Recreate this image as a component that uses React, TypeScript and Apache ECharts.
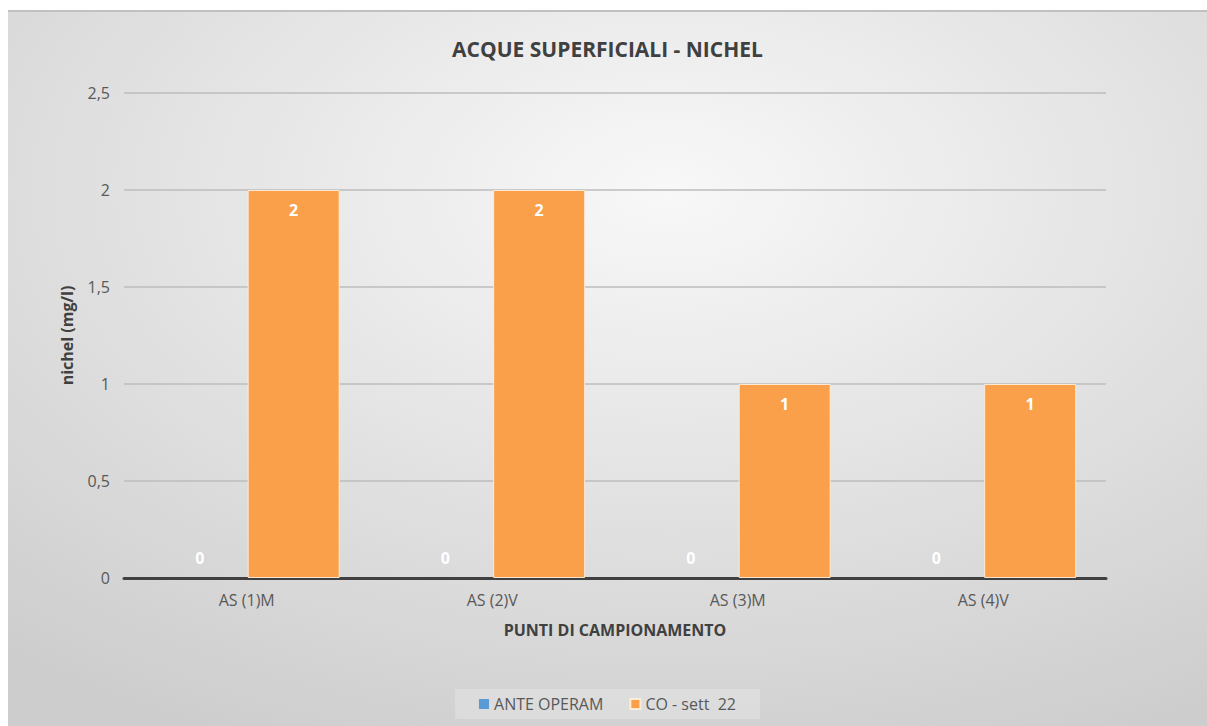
import React, { useEffect, useRef } from "react";
import * as echarts from "echarts";

const categories = ["AS (1)M", "AS (2)V", "AS (3)M", "AS (4)V"];
const anteOperam = [0, 0, 0, 0];
const coSett22 = [2, 2, 1, 1];
const seriesNames = ["ANTE OPERAM", "CO - sett  22"];
const titleText = "ACQUE SUPERFICIALI - NICHEL";
const yAxisName = "nichel (mg/l)";
const xAxisName = "PUNTI DI CAMPIONAMENTO";

const FONT = "'Open Sans', Lato, sans-serif";

export default function App() {
  const ref = useRef<HTMLDivElement>(null);
  useEffect(() => {
    if (!ref.current) return;
    const chart = echarts.init(ref.current, undefined, { renderer: "svg" });
    chart.setOption({
      animation: false,
      backgroundColor: new echarts.graphic.RadialGradient(0.55, 0.25, 0.85, [
        { offset: 0, color: "#f8f8f8" },
        { offset: 1, color: "#cdcdcd" },
      ]),
      textStyle: { fontFamily: FONT },
      title: {
        text: titleText,
        left: "center",
        top: 21,
        textStyle: { fontFamily: FONT, fontSize: 21, fontWeight: "bold", color: "#404040" },
      },
      legend: {
        bottom: 7,
        left: "center",
        itemWidth: 10,
        itemHeight: 10,
        itemGap: 26,
        padding: [7, 24],
        backgroundColor: "rgba(255,255,255,0.22)",
        icon: "rect",
        textStyle: { fontFamily: FONT, fontSize: 16, color: "#595959" },
        data: seriesNames,
      },
      grid: { left: 116, right: 101, top: 81, bottom: 148 },
      xAxis: {
        type: "category",
        data: categories,
        name: xAxisName,
        nameLocation: "middle",
        nameGap: 44,
        nameTextStyle: { fontFamily: FONT, fontSize: 16, fontWeight: "bold", color: "#404040" },
        axisLine: { lineStyle: { color: "#404040", width: 3 } },
        axisTick: { show: false },
        axisLabel: { fontFamily: FONT, fontSize: 16, color: "#595959", margin: 14 },
      },
      yAxis: {
        type: "value",
        min: 0,
        max: 2.5,
        interval: 0.5,
        name: yAxisName,
        nameLocation: "middle",
        nameGap: 49,
        nameTextStyle: { fontFamily: FONT, fontSize: 16, fontWeight: "bold", color: "#404040" },
        axisLine: { show: false },
        axisTick: { show: false },
        splitLine: { lineStyle: { color: "#bcbcbc", width: 1.5 } },
        axisLabel: {
          fontFamily: FONT,
          fontSize: 16,
          color: "#595959",
          margin: 14,
          formatter: (v: number) => String(v).replace(".", ","),
        },
      },
      series: [
        {
          name: seriesNames[0],
          type: "bar",
          data: anteOperam,
          barWidth: 92,
          barGap: "2%",
          itemStyle: { color: "#5b9bd5", borderWidth: 0 },
          label: {
            show: true,
            position: "top",
            distance: 12,
            color: "#ffffff",
            fontFamily: FONT,
            fontSize: 16,
            fontWeight: "bold",
          },
        },
        {
          name: seriesNames[1],
          type: "bar",
          data: coSett22,
          barWidth: 92,
          barGap: "2%",
          itemStyle: { color: "#faa04b", borderColor: "rgba(255,240,220,0.9)", borderWidth: 1 },
          label: {
            show: true,
            position: "insideTop",
            distance: 12,
            color: "#ffffff",
            fontFamily: FONT,
            fontSize: 16,
            fontWeight: "bold",
          },
        },
      ],
    });
    return () => chart.dispose();
  }, []);
  return (
    <div
      style={{
        position: "absolute",
        left: 8,
        top: 10,
        width: 1199,
        height: 716,
        borderTop: "2px solid #c0c0c0",
        boxSizing: "border-box",
      }}
    >
      <div ref={ref} style={{ width: 1199, height: 714 }} />
    </div>
  );
}
